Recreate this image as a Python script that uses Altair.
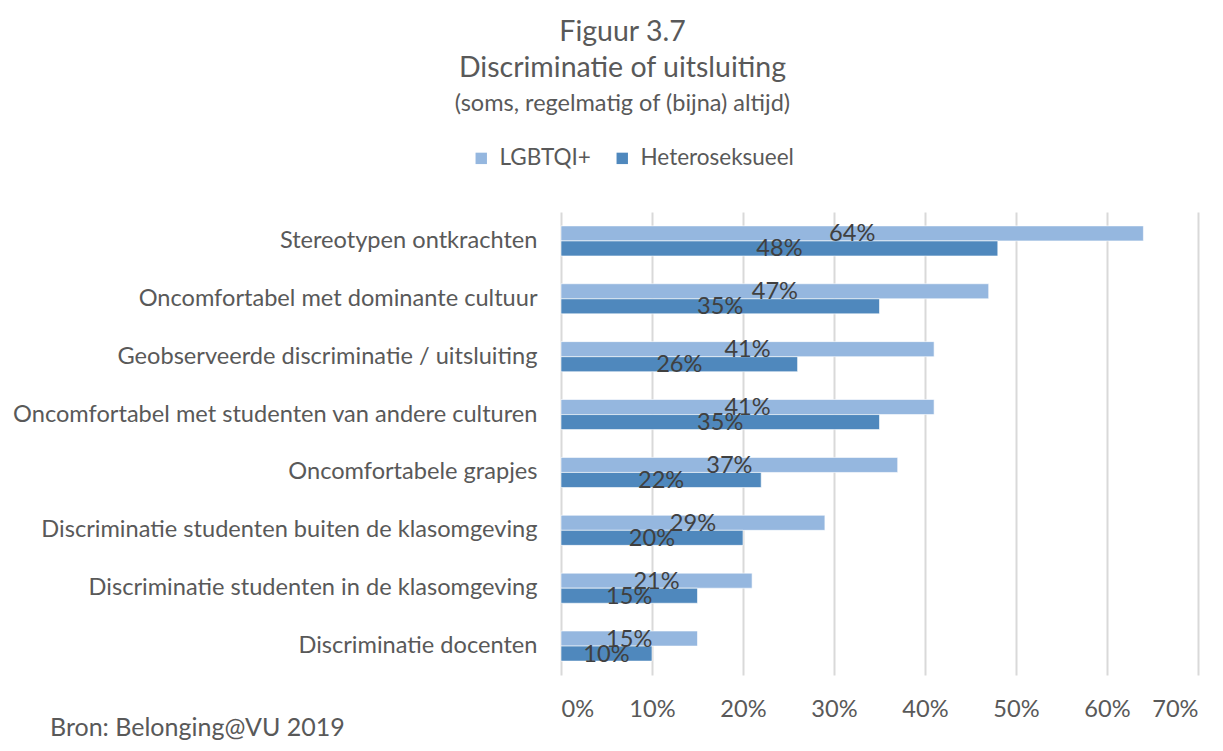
import altair as alt
import pandas as pd

categories = [
    "Stereotypen ontkrachten",
    "Oncomfortabel met dominante cultuur",
    "Geobserveerde discriminatie / uitsluiting",
    "Oncomfortabel met studenten van andere culturen",
    "Oncomfortabele grapjes",
    "Discriminatie studenten buiten de klasomgeving",
    "Discriminatie studenten in de klasomgeving",
    "Discriminatie docenten",
]
series = ["LGBTQI+", "Heteroseksueel"]
lgbtqi = [0.64, 0.47, 0.41, 0.41, 0.37, 0.29, 0.21, 0.15]
hetero = [0.48, 0.35, 0.26, 0.35, 0.22, 0.20, 0.15, 0.10]
colors = ["#95B7DF", "#4F88BD"]

rows = []
for c, a, b in zip(categories, lgbtqi, hetero):
    rows.append({"categorie": c, "groep": series[0], "waarde": a})
    rows.append({"categorie": c, "groep": series[1], "waarde": b})
df = pd.DataFrame(rows)

FONT = "Lato"
TXT = "#595959"
FS = 23.6

base = alt.Chart(df).encode(
    y=alt.Y(
        "categorie:N",
        sort=categories,
        title=None,
        scale=alt.Scale(paddingInner=0.48, paddingOuter=0.24),
        axis=alt.Axis(
            ticks=False, domain=False, grid=False, labelPadding=24,
            labelFontSize=FS, labelColor=TXT, labelFont=FONT, labelLimit=600,
        ),
    ),
    yOffset=alt.YOffset("groep:N", sort=series, scale=alt.Scale(paddingInner=0, paddingOuter=0)),
)

bars = base.mark_bar(stroke="white", strokeWidth=0.6).encode(
    x=alt.X(
        "waarde:Q",
        title=None,
        scale=alt.Scale(domain=[0, 0.7], nice=False),
        axis=alt.Axis(
            format=".0%", values=[0, 0.1, 0.2, 0.3, 0.4, 0.5, 0.6, 0.7],
            ticks=False, domain=False, grid=True, gridColor="#D9D9D9", gridWidth=2,
            labelPadding=22, labelFontSize=FS, labelColor=TXT, labelFont=FONT,
        ),
    ),
    color=alt.Color(
        "groep:N",
        sort=series,
        scale=alt.Scale(domain=series, range=colors),
        legend=alt.Legend(
            title=None, orient="none", legendX=-91, legendY=-65, direction="horizontal",
            symbolType="square", symbolSize=130, symbolStrokeWidth=0, padding=0,
            labelFontSize=22.5, labelColor=TXT, labelFont=FONT, labelLimit=400,
            columnPadding=20, labelOffset=7,
        ),
    ),
)

labels = base.transform_calculate(half="datum.waarde / 2").mark_text(
    fontSize=FS, color="#404040", font=FONT, baseline="middle", dy=1
).encode(
    x=alt.X("half:Q"),
    text=alt.Text("waarde:Q", format=".0%"),
)

source = alt.Chart(pd.DataFrame({"t": ["Bron: Belonging@VU 2019"]})).mark_text(
    align="left", baseline="alphabetic", fontSize=25, color=TXT, font=FONT
).encode(x=alt.value(-511), y=alt.value(524), text="t:N")

chart = alt.layer(bars, labels, source).properties(
    width=637,
    height=463,
    title=alt.TitleParams(
        text=["Figuur 3.7", "Discriminatie of uitsluiting"],
        subtitle="(soms, regelmatig of (bijna) altijd)",
        anchor="middle", frame="group", dx=-257, offset=32,
        font=FONT, fontSize=28.5, fontWeight="normal", color=TXT, lineHeight=36.5,
        subtitleFont=FONT, subtitleFontSize=23.5, subtitleColor=TXT, subtitlePadding=9,
    ),
    autosize=alt.AutoSizeParams(type="none"),
    padding={"left": 553, "top": 204, "right": 17, "bottom": 68},
).configure_view(stroke=None)

chart.save("out.html", embed_options={"renderer": "svg", "actions": False})
